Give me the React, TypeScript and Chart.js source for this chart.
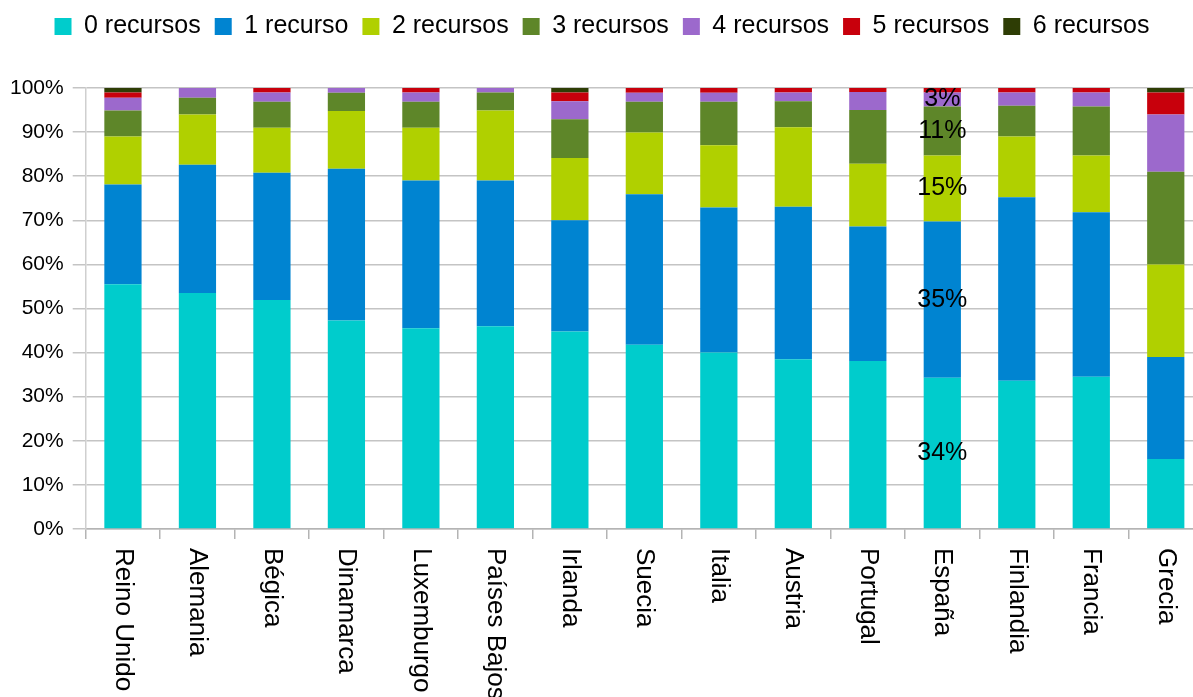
import React, { useEffect, useRef } from 'react';
import { Chart, registerables } from 'chart.js';

Chart.register(...registerables);

const FONT = '"Liberation Sans", Arial, Helvetica, sans-serif';

const categories = [
  'Reino Unido', 'Alemania', 'Bégica', 'Dinamarca', 'Luxemburgo', 'Países Bajos',
  'Irlanda', 'Suecia', 'Italia', 'Austria', 'Portugal', 'España', 'Finlandia',
  'Francia', 'Grecia',
];

const seriesNames = ['0 recursos', '1 recurso', '2 recursos', '3 recursos', '4 recursos', '5 recursos', '6 recursos'];
const seriesColors = ['#00CCCC', '#0084D1', '#B0D000', '#5E8629', '#9C69CC', '#C8000C', '#2E3D05'];

const recursos0 = [55.5, 53.5, 51.9, 47.3, 45.5, 46.0, 44.8, 41.8, 40.0, 38.5, 38.1, 34.3, 33.6, 34.5, 15.9];
const recursos1 = [22.6, 29.1, 28.9, 34.4, 33.5, 33.0, 25.2, 34.1, 32.9, 34.6, 30.5, 35.4, 41.6, 37.3, 23.1];
const recursos2 = [10.9, 11.4, 10.2, 13.1, 12.0, 15.9, 14.1, 14.0, 14.1, 18.0, 14.2, 15.0, 13.8, 12.9, 21.0];
const recursos3 = [5.9, 3.8, 5.9, 4.1, 5.9, 4.1, 8.8, 7.0, 9.9, 5.9, 12.2, 11.1, 7.0, 11.1, 21.0];
const recursos4 = [2.9, 2.2, 2.1, 1.1, 2.1, 1.0, 4.1, 2.0, 2.0, 2.0, 4.1, 3.2, 3.0, 3.2, 13.0];
const recursos5 = [1.2, 0, 1.0, 0, 1.0, 0, 2.0, 1.1, 1.1, 1.0, 0.9, 1.0, 1.0, 1.0, 5.0];
const recursos6 = [1.0, 0, 0, 0, 0, 0, 1.0, 0, 0, 0, 0, 0, 0, 0, 1.0];

const seriesValues = [recursos0, recursos1, recursos2, recursos3, recursos4, recursos5, recursos6];

const yTickValues = [0, 10, 20, 30, 40, 50, 60, 70, 80, 90, 100];

// Data labels shown only on this category, for these series
const labeledCategory = 'España';
const labeledSeries = [0, 1, 2, 3, 4];

const legendSpacer = {
  id: 'legendSpacer',
  beforeLayout(chart: any) {
    const lg = chart.legend;
    if (lg && !lg._patched) {
      const orig = lg.fit;
      lg.fit = function () {
        orig.call(this);
        this.height += 39;
      };
      lg._patched = true;
    }
  },
};

const xLabelPlugin = {
  id: 'xLabelsRotated',
  afterDraw(chart: any) {
    const { ctx, scales, chartArea } = chart;
    const x = scales.x;
    ctx.save();
    ctx.font = `26px ${FONT}`;
    ctx.fillStyle = '#000';
    ctx.textAlign = 'left';
    ctx.textBaseline = 'middle';
    categories.forEach((c, i) => {
      const px = x.getPixelForValue(i);
      ctx.save();
      ctx.translate(px, chartArea.bottom + 19);
      ctx.rotate(Math.PI / 2);
      ctx.fillText(c, 0, 0);
      ctx.restore();
    });
    ctx.restore();
  },
};

const dataLabelPlugin = {
  id: 'dataLabelsEspana',
  afterDatasetsDraw(chart: any) {
    const { ctx } = chart;
    const idx = categories.indexOf(labeledCategory);
    ctx.save();
    ctx.font = `25px ${FONT}`;
    ctx.fillStyle = '#000';
    ctx.textAlign = 'center';
    ctx.textBaseline = 'middle';
    labeledSeries.forEach((s) => {
      const el = chart.getDatasetMeta(s).data[idx];
      if (!el) return;
      const cy = (el.y + el.base) / 2;
      ctx.fillText(`${Math.round(seriesValues[s][idx])}%`, el.x, cy);
    });
    ctx.restore();
  },
};

export default function App() {
  const ref = useRef<HTMLCanvasElement | null>(null);

  useEffect(() => {
    if (!ref.current) return;
    Chart.defaults.font.family = FONT;
    const chart = new Chart(ref.current, {
      type: 'bar',
      data: {
        labels: categories,
        datasets: seriesNames.map((name, i) => ({
          label: name,
          data: seriesValues[i],
          backgroundColor: seriesColors[i],
          borderWidth: 0,
          barPercentage: 0.5,
          categoryPercentage: 1.0,
        })),
      },
      options: {
        animation: false,
        responsive: false,
        devicePixelRatio: 1,
        layout: { padding: { top: 0, left: 1, right: 0, bottom: 158 } },
        plugins: {
          legend: {
            display: true,
            position: 'top',
            align: 'center',
            labels: {
              boxWidth: 17,
              boxHeight: 17,
              padding: 14,
              color: '#000',
              font: { size: 25, family: FONT },
            },
          },
          tooltip: { enabled: false },
        },
        scales: {
          x: {
            stacked: true,
            ticks: { display: false },
            grid: {
              display: true,
              drawOnChartArea: false,
              drawTicks: true,
              tickLength: 10,
              offset: true,
              color: '#b4b4b4',
              lineWidth: 1.5,
            },
            border: { display: true, color: '#b4b4b4', width: 1.5 },
          },
          y: {
            stacked: true,
            min: 0,
            max: 100,
            afterBuildTicks: (axis: any) => {
              axis.ticks = yTickValues.map((v) => ({ value: v }));
            },
            ticks: {
              color: '#000',
              font: { size: 21, family: FONT },
              padding: 9,
              callback: (v: any) => `${v}%`,
            },
            grid: {
              color: '#c4c4c4',
              lineWidth: 1.5,
              drawTicks: true,
              tickLength: 13,
            },
            border: { display: true, color: '#cfcfcf', width: 1.5 },
          },
        },
      },
      plugins: [legendSpacer, xLabelPlugin, dataLabelPlugin],
    });
    return () => chart.destroy();
  }, []);

  return (
    <div style={{ position: 'fixed', left: 0, top: 0, width: 1193, height: 697, overflow: 'hidden', background: '#fff' }}>
      <canvas ref={ref} width={1203} height={697} style={{ width: 1203, height: 697, display: 'block' }} />
    </div>
  );
}
